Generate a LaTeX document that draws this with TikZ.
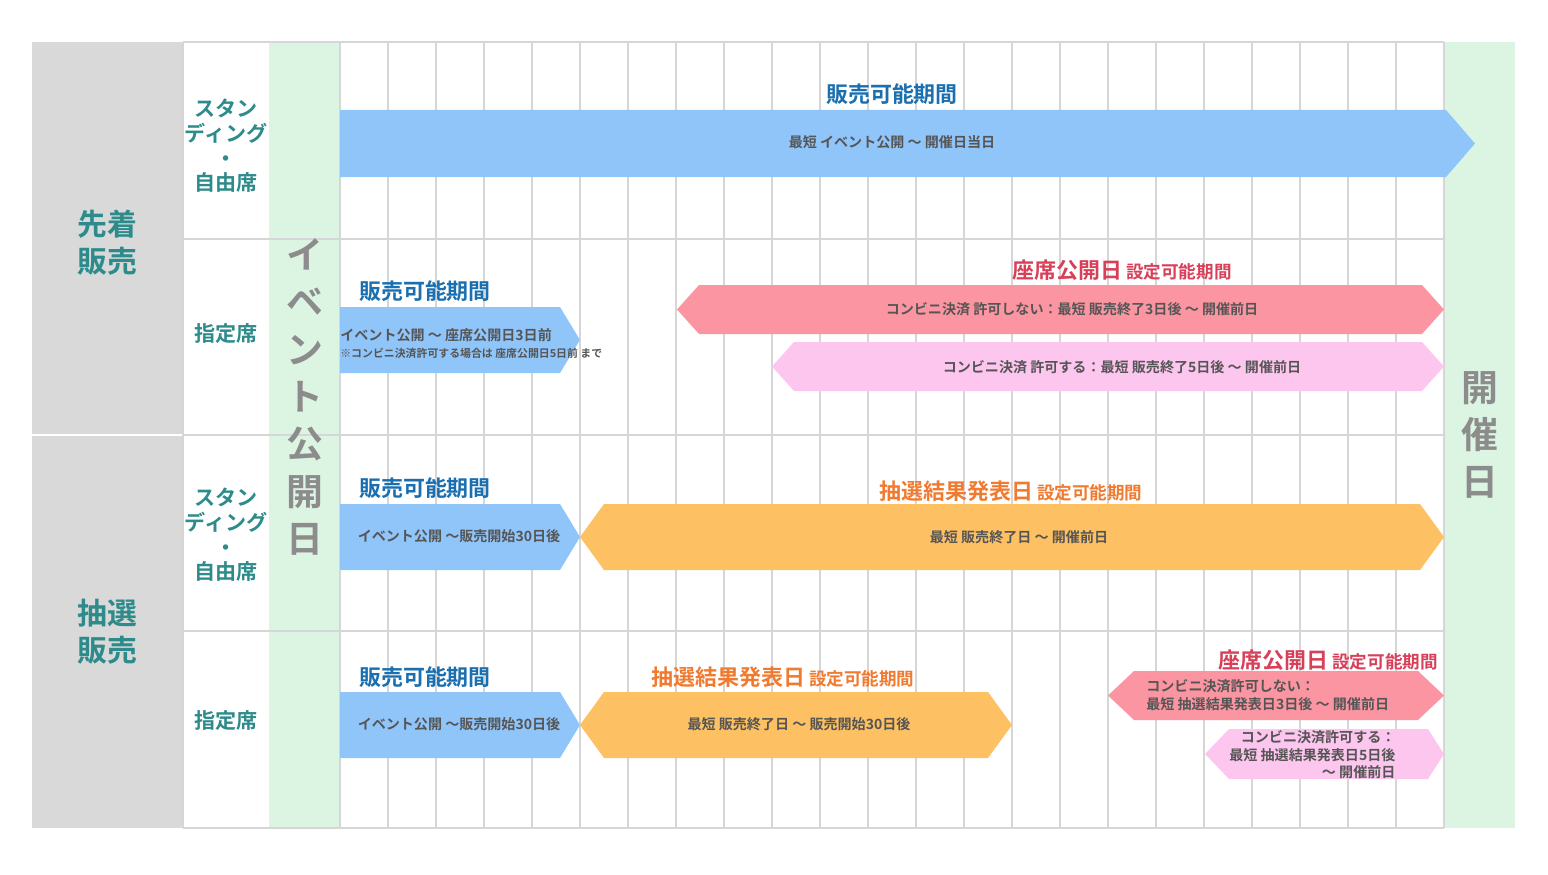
\documentclass[tikz,border=0pt]{standalone}
\usepackage{fontspec}
\setmainfont{Noto Sans CJK JP}[BoldFont={Noto Sans CJK JP Bold}]
\definecolor{headgray}{HTML}{D9D9D9}
\definecolor{headgreen}{HTML}{DCF5E3}
\definecolor{teal}{HTML}{2E8B8B}
\definecolor{gridgray}{HTML}{D6D6D6}
\definecolor{txtgray}{HTML}{555555}
\definecolor{vgray}{HTML}{8C8C8C}
\definecolor{blueband}{HTML}{90C5FA}
\definecolor{redband}{HTML}{FB95A1}
\definecolor{pinkband}{HTML}{FDC6EE}
\definecolor{orangeband}{HTML}{FDC062}
\definecolor{bluetitle}{HTML}{1A6FB0}
\definecolor{redtitle}{HTML}{D8405A}
\definecolor{orangetitle}{HTML}{F07A30}
\tikzset{
  cat/.style={font=\fontsize{17}{21}\selectfont\bfseries,text=teal,align=center},
  kind/.style={font=\fontsize{12}{14}\selectfont\bfseries,text=teal,align=center},
  vert/.style={font=\fontsize{21}{27}\selectfont\bfseries,text=vgray,align=center},
  title/.style={font=\fontsize{12.5}{15}\selectfont\bfseries},
  subtitle/.style={font=\fontsize{10}{12}\selectfont\bfseries},
  bandtext/.style={font=\fontsize{8}{10}\selectfont\bfseries,text=txtgray,align=left},
  smalltext/.style={font=\fontsize{6.2}{8}\selectfont\bfseries,text=txtgray},
}
% band: colour, x1, x2, y1, y2, left depth, right depth
\newcommand{\band}[7]{\fill[#1] ({#2+#6},#4) -- ({#3-#7},#4) -- (#3,{(#4+#5)/2}) -- ({#3-#7},#5) -- ({#2+#6},#5) -- (#2,{(#4+#5)/2}) -- cycle;}
\begin{document}
\begin{tikzpicture}[x=0.02cm,y=-0.02cm]
  \useasboundingbox (0,0) rectangle (1548,875);
  % header columns
  \fill[headgray] (32,42) rectangle (183,828);
  \draw[white,line width=1pt] (32,435) -- (183,435);
  \fill[headgreen] (269,42) rectangle (340,828);
  \fill[headgreen] (1444,42) rectangle (1515,828);
  % grid
  \foreach \i in {0,...,23}
    \draw[gridgray,line width=0.6pt] ({340+\i*48},42) -- ({340+\i*48},828);
  \foreach \y in {42,239,435,631,828}
    \draw[gridgray,line width=0.6pt] (183,\y) -- (1444,\y);
  \draw[gridgray,line width=0.6pt] (183,42) -- (183,828);

  \node[cat] (first) at (107,243) {先着\\販売};
  \node[cat] (lottery) at (107,632) {抽選\\販売};
  \node[kind] (stand1) at (226,146) {スタン\\ディング\\・\\自由席};
  \node[kind] (seat1) at (226,334) {指定席};
  \node[kind] (stand2) at (226,535) {スタン\\ディング\\・\\自由席};
  \node[kind] (seat2) at (226,721) {指定席};
  \node[vert] (open) at (305,397) {イ\\ベ\\ン\\ト\\公\\開\\日};
  \node[vert] (event) at (1480,435) {開\\催\\日};

  % row 1
  \band{blueband}{340}{1475}{110}{177}{0}{29}
  \node[title,text=bluetitle] (t1) at (892,94) {販売可能期間};
  \node[bandtext] (s1) at (892,142) {最短 イベント公開 〜 開催日当日};

  % row 2
  \band{blueband}{340}{580}{307}{373}{0}{20}
  \band{redband}{677}{1444}{285}{334}{22}{22}
  \band{pinkband}{772}{1444}{342}{391}{22}{22}
  \node[title,text=bluetitle] (t2) at (425,291) {販売可能期間};
  \node[bandtext,anchor=west,inner sep=0] (s2) at (340,335) {イベント公開 〜 座席公開日3日前};
  \node[smalltext,anchor=west,inner sep=0] (s2b) at (340,353) {※コンビニ決済許可する場合は 座席公開日5日前 まで};
  \node[text=redtitle,anchor=base] (r2) at (1122,278) {{\fontsize{12.5}{15}\selectfont\bfseries 座席公開日} {\fontsize{10}{12}\selectfont\bfseries 設定可能期間}};
  \node[bandtext] (r2a) at (1072,309) {コンビニ決済 許可しない：最短 販売終了3日後 〜 開催前日};
  \node[bandtext] (r2b) at (1122,367) {コンビニ決済 許可する：最短 販売終了5日後 〜 開催前日};

  % row 3
  \band{blueband}{340}{580}{504}{570}{0}{20}
  \band{orangeband}{580}{1444}{504}{570}{24}{24}
  \node[title,text=bluetitle] (t3) at (425,488) {販売可能期間};
  \node[bandtext] (s3) at (459,536) {イベント公開 〜販売開始30日後};
  \node[text=orangetitle,anchor=base] (o3) at (1011,499) {{\fontsize{12.5}{15}\selectfont\bfseries 抽選結果発表日} {\fontsize{10}{12}\selectfont\bfseries 設定可能期間}};
  \node[bandtext] (o3a) at (1019,537) {最短 販売終了日 〜 開催前日};

  % row 4
  \band{blueband}{340}{580}{692}{758}{0}{20}
  \band{orangeband}{580}{1012}{692}{758}{24}{24}
  \band{redband}{1108}{1444}{671}{720}{26}{26}
  \band{pinkband}{1205}{1444}{729}{779}{24}{16}
  \node[title,text=bluetitle] (t4) at (425,677) {販売可能期間};
  \node[bandtext] (s4) at (459,724) {イベント公開 〜販売開始30日後};
  \node[text=orangetitle,anchor=base] (o4) at (783,685) {{\fontsize{12.5}{15}\selectfont\bfseries 抽選結果発表日} {\fontsize{10}{12}\selectfont\bfseries 設定可能期間}};
  \node[bandtext] (o4a) at (799,724) {最短 販売終了日 〜 販売開始30日後};
  \node[text=redtitle,anchor=base east] (r4) at (1444,668) {{\fontsize{12.5}{15}\selectfont\bfseries 座席公開日} {\fontsize{10}{12}\selectfont\bfseries 設定可能期間}};
  \node[bandtext,anchor=west,inner sep=0] (r4a) at (1146,695) {コンビニ決済許可しない：\\最短 抽選結果発表日3日後 〜 開催前日};
  \node[bandtext,anchor=west,inner sep=0,align=right] (r4b) at (1229,755) {コンビニ決済許可する：\hfill\null\\最短 抽選結果発表日5日後\\〜 開催前日};
\end{tikzpicture}
\end{document}
